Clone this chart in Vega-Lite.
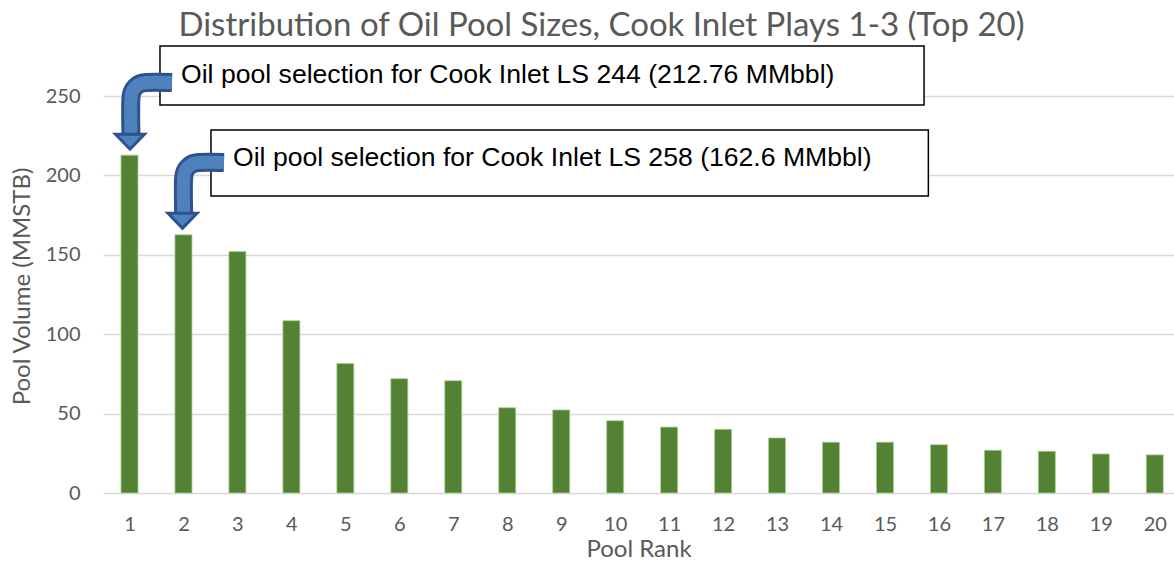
{
  "$schema": "https://vega.github.io/schema/vega-lite/v6.json",
  "width": 1071,
  "height": 397,
  "autosize": "none",
  "padding": {"left": 103, "top": 96, "right": 0, "bottom": 69},
  "background": "white",
  "title": {
    "text": "Distribution of Oil Pool Sizes, Cook Inlet Plays 1-3 (Top 20)",
    "font": "Lato",
    "fontSize": 33,
    "fontWeight": "normal",
    "color": "#595959",
    "anchor": "middle",
    "dx": -37,
    "baseline": "alphabetic",
    "offset": -24
  },
  "config": {
    "view": {"stroke": null},
    "axis": {
      "labelFont": "Lato",
      "titleFont": "Lato",
      "labelColor": "#595959",
      "titleColor": "#595959",
      "labelFontSize": 20,
      "titleFontSize": 24,
      "titleFontWeight": "normal",
      "domain": false,
      "ticks": false
    }
  },
  "datasets": {
    "pools": [
      {"rank": 1, "volume": 212.76},
      {"rank": 2, "volume": 162.6},
      {"rank": 3, "volume": 152.0},
      {"rank": 4, "volume": 108.5},
      {"rank": 5, "volume": 81.5},
      {"rank": 6, "volume": 72.0},
      {"rank": 7, "volume": 70.7},
      {"rank": 8, "volume": 53.7},
      {"rank": 9, "volume": 52.3},
      {"rank": 10, "volume": 45.5},
      {"rank": 11, "volume": 41.5},
      {"rank": 12, "volume": 40.1},
      {"rank": 13, "volume": 34.7},
      {"rank": 14, "volume": 32.0},
      {"rank": 15, "volume": 32.0},
      {"rank": 16, "volume": 30.4},
      {"rank": 17, "volume": 26.9},
      {"rank": 18, "volume": 26.3},
      {"rank": 19, "volume": 24.6},
      {"rank": 20, "volume": 24.0}
    ],
    "boxes": [
      {"id": 1, "x1": 1.565, "x2": 15.724, "y1": 244.3, "y2": 281.5},
      {"id": 2, "x1": 2.510, "x2": 15.804, "y1": 187.0, "y2": 228.6}
    ],
    "arrows": [
      {"arrow": 1, "seq": 1, "ax": 1.788, "ay": 258.5},
      {"arrow": 1, "seq": 2, "ax": 1.306, "ay": 258.5},
      {"arrow": 1, "seq": 3, "ax": 1.1995, "ay": 257.78},
      {"arrow": 1, "seq": 4, "ax": 1.1093, "ay": 255.74},
      {"arrow": 1, "seq": 5, "ax": 1.049, "ay": 252.67},
      {"arrow": 1, "seq": 6, "ax": 1.0279, "ay": 249.06},
      {"arrow": 1, "seq": 7, "ax": 1.0279, "ay": 224.81},
      {"arrow": 2, "seq": 1, "ax": 2.7514, "ay": 208.12},
      {"arrow": 2, "seq": 2, "ax": 2.2825, "ay": 208.12},
      {"arrow": 2, "seq": 3, "ax": 2.1762, "ay": 207.40},
      {"arrow": 2, "seq": 4, "ax": 2.0859, "ay": 205.36},
      {"arrow": 2, "seq": 5, "ax": 2.0257, "ay": 202.29},
      {"arrow": 2, "seq": 6, "ax": 2.0046, "ay": 198.68},
      {"arrow": 2, "seq": 7, "ax": 2.0046, "ay": 175.69}
    ],
    "heads": [
      {"arrow": 1, "hx": 1.0094, "hy": 221.22},
      {"arrow": 2, "hx": 1.9823, "hy": 171.41}
    ],
    "notes": [
      {"nx": 1.955, "ny": 263.2, "label": "Oil pool selection for Cook Inlet LS 244 (212.76 MMbbl)"},
      {"nx": 2.918, "ny": 211.0, "label": "Oil pool selection for Cook Inlet LS 258 (162.6 MMbbl)"}
    ]
  },
  "layer": [
    {
      "data": {"name": "pools"},
      "mark": {"type": "bar", "size": 17, "fill": "#548235", "stroke": "#a9d08e", "strokeWidth": 0.8},
      "encoding": {
        "x": {
          "field": "rank",
          "type": "quantitative",
          "title": "Pool Rank",
          "scale": {"domain": [0.509, 20.356], "nice": false, "zero": false, "padding": 0},
          "axis": {
            "values": [1, 2, 3, 4, 5, 6, 7, 8, 9, 10, 11, 12, 13, 14, 15, 16, 17, 18, 19, 20],
            "grid": false,
            "labelPadding": 21,
            "titlePadding": 3,
            "labelFlush": false,
            "labelOverlap": false
          }
        },
        "y": {
          "field": "volume",
          "type": "quantitative",
          "title": "Pool Volume (MMSTB)",
          "scale": {"domain": [0, 250], "nice": false, "padding": 0},
          "axis": {
            "values": [0, 50, 100, 150, 200, 250],
            "grid": true,
            "gridColor": "#d9d9d9",
            "gridWidth": 1.5,
            "labelPadding": 23,
            "titlePadding": 11,
            "titleY": 190
          }
        }
      }
    },
    {
      "data": {"name": "boxes"},
      "mark": {"type": "rect", "fill": "white", "stroke": "black", "strokeWidth": 1.5},
      "encoding": {
        "x": {"field": "x1", "type": "quantitative", "title": "Pool Rank"},
        "x2": {"field": "x2"},
        "y": {"field": "y1", "type": "quantitative", "title": "Pool Volume (MMSTB)"},
        "y2": {"field": "y2"}
      }
    },
    {
      "data": {"name": "arrows"},
      "mark": {"type": "line", "stroke": "#2f528f", "strokeWidth": 19, "interpolate": "catmull-rom", "strokeCap": "butt", "strokeJoin": "round"},
      "encoding": {
        "x": {"field": "ax", "type": "quantitative", "title": "Pool Rank"},
        "y": {"field": "ay", "type": "quantitative", "title": "Pool Volume (MMSTB)"},
        "detail": {"field": "arrow"},
        "order": {"field": "seq"}
      }
    },
    {
      "data": {"name": "arrows"},
      "mark": {"type": "line", "stroke": "#4f81bd", "strokeWidth": 13, "interpolate": "catmull-rom", "strokeCap": "butt", "strokeJoin": "round"},
      "encoding": {
        "x": {"field": "ax", "type": "quantitative", "title": "Pool Rank"},
        "y": {"field": "ay", "type": "quantitative", "title": "Pool Volume (MMSTB)"},
        "detail": {"field": "arrow"},
        "order": {"field": "seq"}
      }
    },
    {
      "data": {"name": "heads"},
      "mark": {
        "type": "point",
        "shape": "M -1 -0.517 L 1 -0.517 L 0 0.517 Z",
        "size": 841,
        "filled": true,
        "fill": "#4f81bd",
        "stroke": "#2f528f",
        "strokeWidth": 3,
        "strokeJoin": "miter",
        "opacity": 1
      },
      "encoding": {
        "x": {"field": "hx", "type": "quantitative", "title": "Pool Rank"},
        "y": {"field": "hy", "type": "quantitative", "title": "Pool Volume (MMSTB)"}
      }
    },
    {
      "data": {"name": "notes"},
      "mark": {"type": "text", "align": "left", "baseline": "middle", "font": "Liberation Sans", "fontSize": 26.6, "color": "black"},
      "encoding": {
        "x": {"field": "nx", "type": "quantitative", "title": "Pool Rank"},
        "y": {"field": "ny", "type": "quantitative", "title": "Pool Volume (MMSTB)"},
        "text": {"field": "label"}
      }
    }
  ]
}
